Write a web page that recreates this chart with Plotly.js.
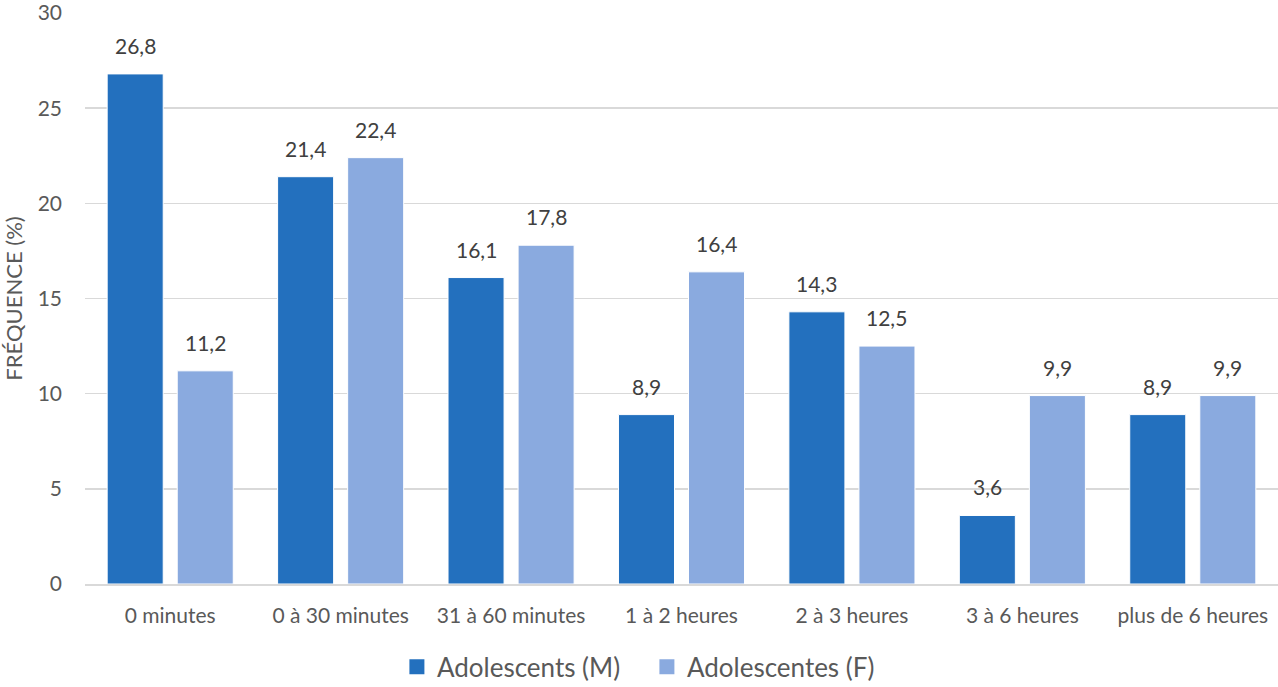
<!DOCTYPE html>
<html>
<head>
<meta charset="utf-8">
<script src="https://cdn.plot.ly/plotly-3.0.1.min.js"></script>
<style>
  html, body { margin: 0; padding: 0; background: #fff; }
  #chart { width: 1278px; height: 687px; }
</style>
</head>
<body>
<div id="chart"></div>
<script>
// Temps passé par jour, fréquences en %
const categories = ['0 minutes', '0 à 30 minutes', '31 à 60 minutes', '1 à 2 heures',
                    '2 à 3 heures', '3 à 6 heures', 'plus de 6 heures'];
const garcons = [26.8, 21.4, 16.1, 8.9, 14.3, 3.6, 8.9];
const filles = [11.2, 22.4, 17.8, 16.4, 12.5, 9.9, 9.9];
const seriesNames = ['Adolescents (M)', 'Adolescentes (F)'];
const seriesColors = ['#2370BE', '#8AAADF'];
const yTicks = [0, 5, 10, 15, 20, 25, 30];

const FONT = 'Lato, "Open Sans", sans-serif';
const TXT = '#595959';

const bars = [garcons, filles].map((vals, si) => ({
  type: 'bar',
  x: categories,
  y: vals,
  name: seriesNames[si],
  marker: { color: seriesColors[si], line: { color: '#ffffff', width: 1 } },
  showlegend: false,
  hoverinfo: 'skip'
}));

// Entrées de légende avec carrés pleins
const legendKeys = seriesNames.map((n, si) => ({
  type: 'scatter', mode: 'markers',
  x: [null], y: [null], name: n,
  marker: { symbol: 'square', size: 15, color: seriesColors[si] },
  showlegend: true, hoverinfo: 'skip'
}));

// Étiquettes de valeur au-dessus de chaque barre
const fmt = v => v.toFixed(1).replace('.', ',');
const annotations = [];
[garcons, filles].forEach((vals, si) => {
  vals.forEach((v, i) => {
    annotations.push({
      x: categories[i], y: v, xref: 'x', yref: 'y',
      text: fmt(v), showarrow: false,
      xshift: si === 0 ? -35 : 35, yshift: 14, yanchor: 'bottom',
      font: { family: FONT, size: 21, color: '#404040' }
    });
  });
});

const layout = {
  width: 1278, height: 687,
  margin: { l: 85, r: 0, t: 13, b: 103, autoexpand: false },
  paper_bgcolor: '#fff', plot_bgcolor: '#fff',
  barmode: 'group', bargap: 0.178, bargroupgap: 0.2,
  separators: ', ',
  font: { family: FONT, color: TXT, size: 21 },
  xaxis: {
    type: 'category',
    showgrid: false, zeroline: false,
    showline: true, linecolor: '#D9D9D9', linewidth: 2,
    ticks: '', ticklabelstandoff: 12, tickangle: 0,
    tickfont: { family: FONT, size: 21, color: TXT },
    fixedrange: true
  },
  yaxis: {
    range: [0, 30], tickvals: yTicks, ticktext: yTicks.map(String),
    showgrid: true, gridcolor: '#D9D9D9', gridwidth: 1.5,
    zeroline: false, showline: false, ticks: '',
    ticklabelstandoff: 22, ticklabeloverflow: 'allow',
    tickfont: { family: FONT, size: 21, color: TXT },
    title: { text: 'FRÉQUENCE (%)', font: { family: FONT, size: 22, color: TXT }, standoff: 10 },
    fixedrange: true
  },
  legend: {
    orientation: 'h', x: 0.471, xanchor: 'center',
    y: -0.145, yanchor: 'middle',
    font: { family: FONT, size: 26, color: TXT },
    itemwidth: 30, entrywidth: 205, traceorder: 'normal'
  },
  annotations: annotations,
  showlegend: true
};

Plotly.newPlot('chart', bars.concat(legendKeys), layout, { displayModeBar: false, staticPlot: true });
</script>
</body>
</html>
